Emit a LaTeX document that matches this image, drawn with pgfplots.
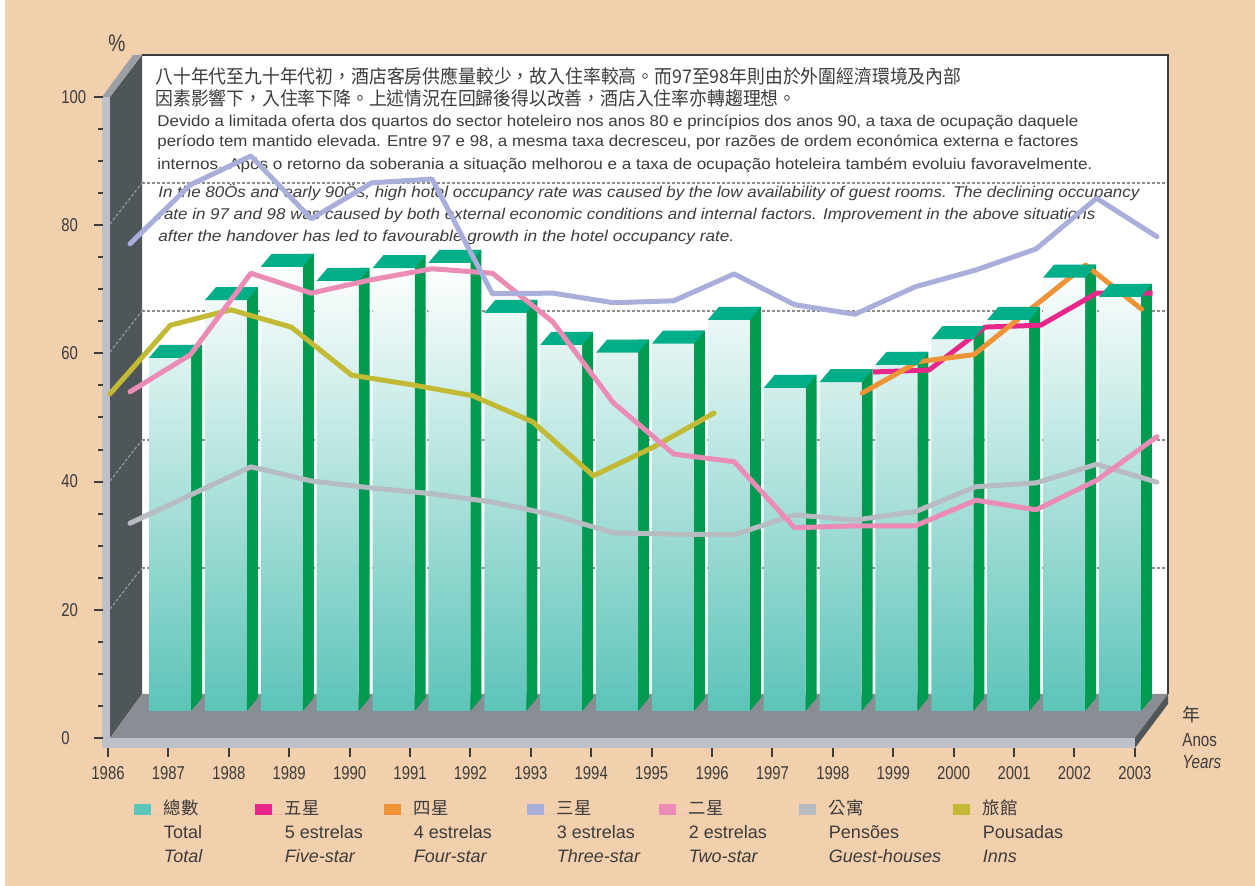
\documentclass[border=0pt]{standalone}
\usepackage{fontspec}
\setmainfont{Liberation Sans}
\newfontfamily\condfont{Liberation Sans}[FakeStretch=0.8]
\newfontfamily\cjk{Noto Sans CJK TC}
\usepackage{graphicx}
\usepackage{pgfplots}
\usepackage{pgfplotstable}
\pgfplotsset{compat=1.18}

\definecolor{bgc}{HTML}{F2CFAD}
\definecolor{wallc}{HTML}{4F5659}
\definecolor{capc}{HTML}{9AA0A5}
\definecolor{stripc}{HTML}{BDC1C8}
\definecolor{floorc}{HTML}{898E95}
\definecolor{gridc}{HTML}{8C8C8C}
\definecolor{topgreen}{HTML}{00AE87}
\definecolor{sidegreen}{HTML}{009A50}
\definecolor{barteal}{HTML}{5CC4B8}
\definecolor{totalc}{HTML}{5CC6BA}
\definecolor{fivec}{HTML}{E8278B}
\definecolor{fourc}{HTML}{EE9437}
\definecolor{threec}{HTML}{A9AFDA}
\definecolor{twoc}{HTML}{EB8CB7}
\definecolor{pensc}{HTML}{B7BBC2}
\definecolor{innsc}{HTML}{C2B935}
\definecolor{textc}{HTML}{3C3C3C}

% 3D bar decorations (top face, bottom of side face)
\pgfdeclareplotmark{bartop}{%
  \pgfpathmoveto{\pgfqpoint{-10.5pt}{0pt}}%
  \pgfpathlineto{\pgfqpoint{10.5pt}{0pt}}%
  \pgfpathlineto{\pgfqpoint{16pt}{6.5pt}}%
  \pgfpathlineto{\pgfqpoint{-5pt}{6.5pt}}%
  \pgfpathclose\pgfusepathqfill}
\pgfdeclareplotmark{barbase}{%
  \pgfpathmoveto{\pgfqpoint{10.5pt}{0pt}}%
  \pgfpathlineto{\pgfqpoint{10.5pt}{6.5pt}}%
  \pgfpathlineto{\pgfqpoint{16pt}{6.5pt}}%
  \pgfpathclose\pgfusepathqfill}

\pgfplotstableread{
year total
1986 55.1
1987 64.1
1988 69.3
1989 67.1
1990 69.1
1991 69.9
1992 62.1
1993 57.1
1994 55.9
1995 57.3
1996 61.0
1997 50.4
1998 51.3
1999 54.0
2000 58.0
2001 61.0
2002 67.6
2003 64.6
}\totaltable

\pgfplotstableread{
year three two pens
1986 77.1 54.0 33.5
1987 86.3 59.8 37.9
1988 90.8 72.5 42.3
1989 81.0 69.4 40.1
1990 86.6 71.5 39.0
1991 87.2 73.2 38.1
1992 69.3 72.5 36.8
1993 69.4 64.9 34.8
1994 67.9 52.3 32.0
1995 68.2 44.3 31.8
1996 72.4 43.1 31.7
1997 67.6 32.8 34.8
1998 66.1 33.1 34.0
1999 70.4 33.1 35.3
2000 73.0 37.1 39.2
2001 76.3 35.6 39.8
2002 84.2 40.2 42.7
2003 78.2 47.0 39.9
}\linetable

\pgfplotstableread{
year inns
1986 53.7
1987 64.4
1988 66.8
1989 64.1
1990 56.6
1991 55.1
1992 53.4
1993 49.3
1994 40.9
1995 45.4
1996 50.7
}\innstable

\pgfplotstableread{
year five four
1998 57.1 53.8
1999 57.4 58.7
2000 64.1 59.8
2001 64.4 66.8
2002 69.4 73.8
2003 69.4 66.9
}\luxtable

\begin{document}
\begin{tikzpicture}
% ---------- background and 3D frame (pixel grid: 1 px = 0.5 pt) ----------
\begin{scope}[x=0.5pt,y=0.5pt]
  \fill[bgc] (0,0) rectangle (1255,886);
  \fill[white] (0,0) rectangle (5,886);
  % back wall
  \fill[white] (142,831) rectangle (1168,192);
  % left wall
  \fill[wallc] (110,789) -- (142,831) -- (142,192) -- (110,148) -- cycle;
  \fill[capc] (102,789) -- (133,831) -- (142,831) -- (110,789) -- cycle;
  \fill[stripc] (102,789) rectangle (110,138);
  % floor
  \fill[floorc] (110,148) -- (142,192) -- (1168,192) -- (1135,148) -- cycle;
  \fill[stripc] (102,148) rectangle (1135,138);
  \fill[wallc] (1135,148) -- (1168,192) -- (1168,182) -- (1135,138) -- cycle;
  % gridlines on back wall and left wall
  \foreach \yy/\yf in {703/662,575/534,446/405,318/277}{
    \draw[gridc, line width=0.6pt, dash pattern=on 1.5pt off 1pt] (142,\yy) -- (1168,\yy);
    \draw[gridc!80, line width=0.5pt, dash pattern=on 1.5pt off 1pt] (110,\yf) -- (142,\yy);
  }
  \draw[textc, line width=1pt] (142,831) -- (1168,831) -- (1168,192);
  % texts on the back wall
  \node[anchor=base west, inner sep=0pt, text=textc] at (155,802)
    {\resizebox{403pt}{\height}{\cjk\fontsize{9.4}{11}\selectfont 八十年代至九十年代初，酒店客房供應量較少，故入住率較高。而97至98年則由於外圍經濟環境及內部}};
  \node[anchor=base west, inner sep=0pt, text=textc] at (155,780)
    {\resizebox{320.5pt}{\height}{\cjk\fontsize{9.4}{11}\selectfont 因素影響下，入住率下降。上述情況在回歸後得以改善，酒店入住率亦轉趨理想。}};
  \node[anchor=base west, inner sep=0pt, text=textc] at (157,759)
    {\resizebox{460.5pt}{\height}{\fontsize{7.8}{9}\selectfont Devido a limitada oferta dos quartos do sector hoteleiro nos anos 80 e princípios dos anos 90, a taxa de ocupação daquele}};
  \node[anchor=base west, inner sep=0pt, text=textc] at (157,739)
    {\resizebox{460.5pt}{\height}{\fontsize{7.8}{9}\selectfont período tem mantido elevada. Entre 97 e 98, a mesma taxa decresceu, por razões de ordem económica externa e factores}};
  \node[anchor=base west, inner sep=0pt, text=textc] at (157,716)
    {\resizebox{467.5pt}{\height}{\fontsize{7.8}{9}\selectfont internos. Após o retorno da soberania a situação melhorou e a taxa de ocupação hoteleira também evoluiu favoravelmente.}};
  \node[anchor=base west, inner sep=0pt, text=textc] at (158,688)
    {\resizebox{490.5pt}{\height}{\fontsize{7.8}{9}\selectfont\itshape In the 80Ös and early 90Ös, high hotel occupancy rate was caused by the low availability of guest rooms. The declining occupancy}};
  \node[anchor=base west, inner sep=0pt, text=textc] at (158,666)
    {\resizebox{468.5pt}{\height}{\fontsize{7.8}{9}\selectfont\itshape rate in 97 and 98 was caused by both external economic conditions and internal factors. Improvement in the above situations}};
  \node[anchor=base west, inner sep=0pt, text=textc] at (158,644)
    {\resizebox{288pt}{\height}{\fontsize{7.8}{9}\selectfont\itshape after the handover has led to favourable growth in the hotel occupancy rate.}};
  % axis captions
  \node[text=textc, inner sep=0pt] at (117,843) {\condfont\fontsize{12}{14}\selectfont \%};
  \node[anchor=west, text=textc, inner sep=0pt] at (1182,171) {\cjk\fontsize{9}{10}\selectfont 年};
  \node[anchor=west, text=textc, inner sep=0pt] at (1182,146) {\condfont\fontsize{9.5}{10}\selectfont Anos};
  \node[anchor=west, text=textc, inner sep=0pt] at (1182,124) {\condfont\fontsize{9.5}{10}\selectfont\itshape Years};
\end{scope}

% ---------- bars (3D columns) and the 4-/5-star lines ----------
\begin{axis}[
  at={(85pt,87.5pt)}, anchor=south west,
  x=27.94pt, y=3.205pt,
  xmin=1986, xmax=2003, ymin=0, ymax=100,
  axis lines=none, clip=false,
]
\addplot[ybar, bar width=5.5pt, bar shift=13.25pt, draw=none, fill=sidegreen, yshift=6.5pt]
  table[x=year,y=total]{\totaltable};
\addplot[only marks, mark=barbase, mark options={fill=sidegreen, draw=none}]
  table[x=year,y expr=0]{\totaltable};
\addplot[ybar, bar width=21pt, bar shift=0pt, draw=none, top color=white, bottom color=barteal]
  table[x=year,y=total]{\totaltable};
\addplot[only marks, mark=bartop, mark options={fill=topgreen, draw=none}]
  table[x=year,y=total]{\totaltable};
\addplot[fivec, line width=2.5pt, line join=round, xshift=16.3pt, yshift=-13.5pt]
  table[x=year,y=five]{\luxtable};
\addplot[fourc, line width=2.5pt, line join=round, line cap=round, xshift=10.8pt, yshift=-13.5pt]
  table[x=year,y=four]{\luxtable};
\end{axis}

% ---------- other lines, ticks and legend ----------
\begin{axis}[
  at={(51.5pt,69pt)}, anchor=south west,
  x=30.205pt, y=3.205pt,
  xmin=1985.917, xmax=2003.6, ymin=-1.56, ymax=100,
  clip=false,
  axis x line*=bottom, axis y line*=left,
  axis line style={draw=none},
  xtick={1986,...,2003},
  xticklabels={1986,1987,1988,1989,1990,1991,1992,1993,1994,1995,1996,1997,1998,1999,2000,2001,2002,2003},
  ytick={0,20,...,100},
  minor y tick num=3,
  tick align=outside,
  major tick length=4.5pt, minor tick length=2.5pt,
  every tick/.style={textc, line width=1pt},
  /pgf/number format/assume math mode=true,
  tick label style={font=\condfont\fontsize{9.3}{11}\selectfont, text=textc, inner sep=0pt},
  xticklabel style={yshift=-4.5pt},
  yticklabel style={anchor=west, xshift=-16.5pt},
  legend columns=7,
  legend image code/.code={\fill[#1] (0pt,0pt) rectangle (8.5pt,5.5pt); \path (0pt,0pt) -- (15pt,0pt);},
  legend style={draw=none, fill=none, at={(0.029,-0.0799)}, anchor=north west,
    inner sep=0pt, outer sep=0pt, column sep=0pt,
    cells={anchor=base west}, nodes={inner sep=0pt}, text=textc},
]
\addplot[innsc, line width=2.5pt, line join=round, line cap=round, xshift=1pt, forget plot]
  table[x=year,y=inns]{\innstable};
\addplot[pensc, line width=2.5pt, line join=round, line cap=round, xshift=11pt, forget plot]
  table[x=year,y=pens]{\linetable};
\addplot[twoc, line width=2.5pt, line join=round, line cap=round, xshift=11pt, forget plot]
  table[x=year,y=two]{\linetable};
\addplot[threec, line width=2.5pt, line join=round, line cap=round, xshift=11pt, forget plot]
  table[x=year,y=three]{\linetable};

\newcommand{\lent}[4]{\makebox[#1][l]{\vtop{\baselineskip=12pt\hbox{\cjk\fontsize{8.7}{10}\selectfont #2}\hbox{\fontsize{9}{10}\selectfont #3}\hbox{\fontsize{9}{10}\selectfont\itshape #4}}}}
\addlegendimage{fill=totalc, draw=none}
\addlegendentry{\lent{45.5pt}{總數}{Total}{Total}}
\addlegendimage{fill=fivec, draw=none}
\addlegendentry{\lent{49.5pt}{五星}{5 estrelas}{Five-star}}
\addlegendimage{fill=fourc, draw=none}
\addlegendentry{\lent{56.5pt}{四星}{4 estrelas}{Four-star}}
\addlegendimage{fill=threec, draw=none}
\addlegendentry{\lent{51pt}{三星}{3 estrelas}{Three-star}}
\addlegendimage{fill=twoc, draw=none}
\addlegendentry{\lent{55pt}{二星}{2 estrelas}{Two-star}}
\addlegendimage{fill=pensc, draw=none}
\addlegendentry{\lent{62pt}{公寓}{Pensões}{Guest-houses}}
\addlegendimage{fill=innsc, draw=none}
\addlegendentry{\lent{40pt}{旅館}{Pousadas}{Inns}}
\end{axis}
\end{tikzpicture}
\end{document}
